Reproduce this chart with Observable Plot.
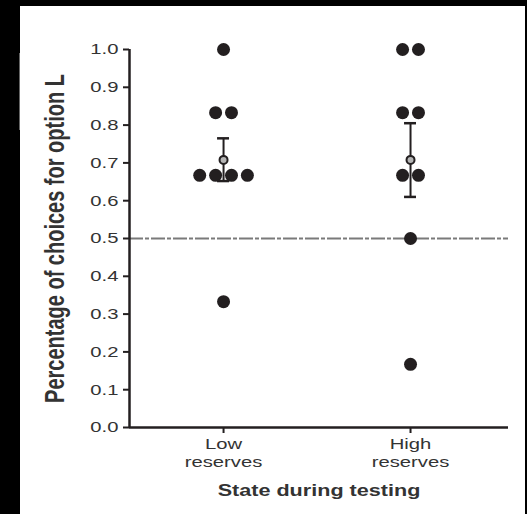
<!DOCTYPE html>
<html>
<head>
<meta charset="utf-8">
<script src="https://cdn.jsdelivr.net/npm/d3@7"></script>
<script src="https://cdn.jsdelivr.net/npm/@observablehq/plot@0.6"></script>
<style>
  html, body { margin: 0; padding: 0; background: #000; width: 527px; height: 514px; overflow: hidden; }
  #panel { position: absolute; left: 20px; top: 6px; width: 505px; height: 508px; background: #fff; }
  #edge { position: absolute; left: 19px; top: 53px; width: 1px; height: 77px; background: #666; }
  g[aria-label="y-axis label"] text { font-weight: bold; font-size: 20px; }
  g[aria-label="x-axis label"] text { font-weight: bold; font-size: 16px; }
</style>
</head>
<body>
<div id="edge"></div>
<div id="panel"></div>
<script>
// ---- data ----
const categories = ["Low\nreserves", "High\nreserves"];
const lowReserves  = [1.0, 0.833, 0.833, 0.667, 0.667, 0.667, 0.667, 0.333];
const highReserves = [1.0, 1.0, 0.833, 0.833, 0.667, 0.667, 0.5, 0.167];
const means   = [0.708, 0.708];
const errLow  = [0.652, 0.61];
const errHigh = [0.765, 0.805];
const yTicks  = [0, 0.1, 0.2, 0.3, 0.4, 0.5, 0.6, 0.7, 0.8, 0.9, 1.0];
const chanceLevel = 0.5;

// ---- layout helpers ----
const xDomain = [-0.503, 1.524];
const spacing = 0.085;   // horizontal offset between tied points (x units)
const capHalf = 0.032;
const textStretch = 1.35; // reference glyphs are horizontally widened

function spread(values, catIndex) {
  const groups = d3.group(values, v => v);
  const out = [];
  for (const [v, arr] of groups) {
    const n = arr.length;
    arr.forEach((_, i) => out.push({x: catIndex + (i - (n - 1) / 2) * spacing, y: v}));
  }
  return out;
}
const points = [...spread(lowReserves, 0), ...spread(highReserves, 1)];
const summary = means.map((m, i) => ({x: i, mean: m, lo: errLow[i], hi: errHigh[i]}));
const caps = summary.flatMap(d => [
  {x1: d.x - capHalf, x2: d.x + capHalf, y: d.lo},
  {x1: d.x - capHalf, x2: d.x + capHalf, y: d.hi}
]);

const ink = "#231f20";

const chart = Plot.plot({
  width: 505,
  height: 508,
  marginLeft: 109,
  marginRight: 17,
  marginTop: 43,
  marginBottom: 87,
  style: {fontFamily: "'Liberation Sans', Arial, sans-serif", color: ink, background: "white", overflow: "visible"},
  x: {domain: xDomain},
  y: {domain: [0, 1]},
  marks: [
    Plot.ruleY([chanceLevel], {stroke: "#7a7a7a", strokeWidth: 2, strokeDasharray: "14,2,4,2"}),
    Plot.axisY({
      ticks: yTicks, tickFormat: d3.format(".1f"), tickSize: 6, tickPadding: 5,
      strokeWidth: 2, fontSize: 15, fill: "#333",
      label: "Percentage of choices for option L", labelAnchor: "center", labelOffset: 80, labelArrow: "none"
    }),
    Plot.axisX({
      ticks: [0, 1], tickFormat: i => categories[i], tickSize: 6, tickPadding: 3,
      strokeWidth: 2, fontSize: 15, fill: "#333", lineHeight: 1.18,
      label: "State during testing", labelAnchor: "center", labelOffset: 68, labelArrow: "none"
    }),
    Plot.ruleX([xDomain[0]], {stroke: ink, strokeWidth: 2.5}),
    Plot.ruleY([0], {stroke: ink, strokeWidth: 2.5}),
    Plot.dot(points, {x: "x", y: "y", r: 6.5, fill: ink}),
    Plot.ruleX(summary, {x: "x", y1: "lo", y2: "hi", stroke: ink, strokeWidth: 2}),
    Plot.ruleY(caps, {x1: "x1", x2: "x2", y: "y", stroke: ink, strokeWidth: 2.5}),
    Plot.dot(summary, {x: "x", y: "mean", r: 4, fill: "#b5b5b5", stroke: ink, strokeWidth: 2})
  ]
});
document.getElementById("panel").appendChild(chart);

// widen the axis text horizontally about each text's anchor point
const svgNS = "http://www.w3.org/2000/svg";
chart.querySelectorAll('g[aria-label$="tick label"] text, g[aria-label$="axis label"] text').forEach(t => {
  const base = t.transform.baseVal.consolidate();
  const m = base ? base.matrix : chart.createSVGMatrix();
  const x0 = t.x.baseVal.length ? t.x.baseVal[0].value : 0;
  const y0 = t.y.baseVal.length ? t.y.baseVal[0].value : 0;
  const px = m.a * x0 + m.c * y0 + m.e;
  const py = m.b * x0 + m.d * y0 + m.f;
  const g = document.createElementNS(svgNS, "g");
  g.setAttribute("transform", `translate(${px},${py}) scale(${textStretch},1) translate(${-px},${-py})`);
  t.parentNode.insertBefore(g, t);
  g.appendChild(t);
});
</script>
</body>
</html>
